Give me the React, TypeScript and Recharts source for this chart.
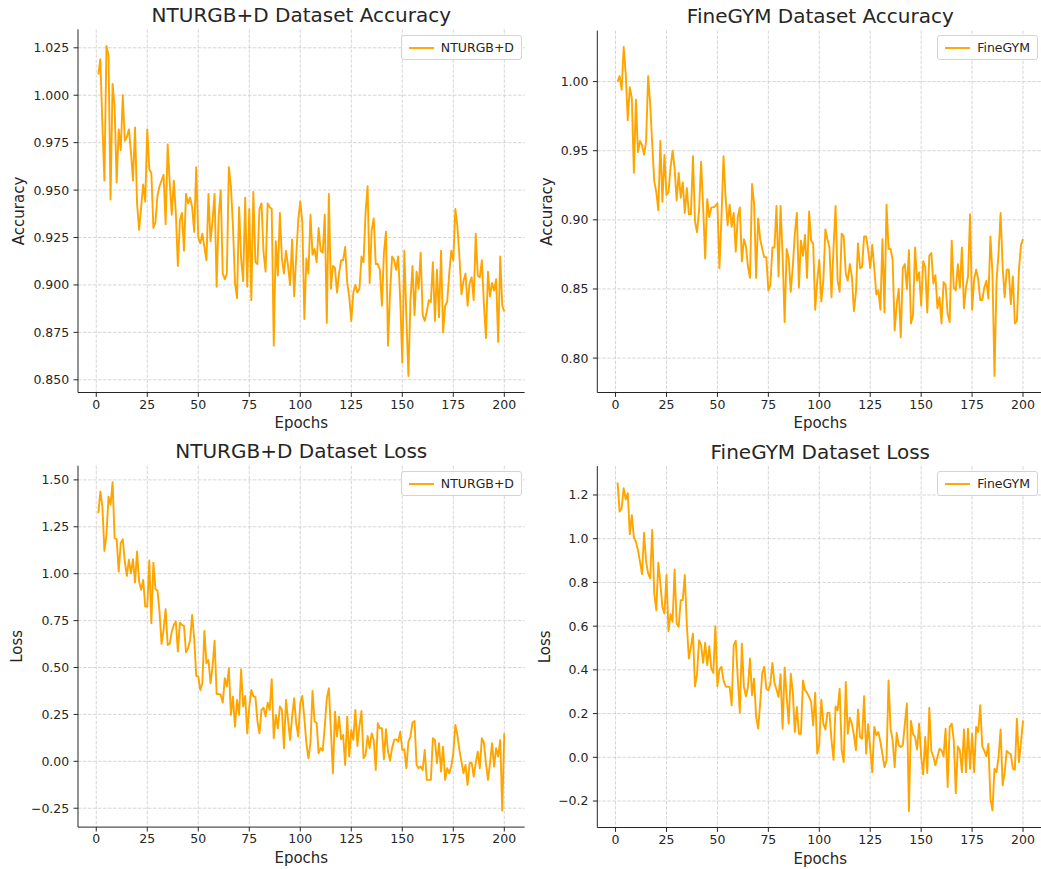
import { LineChart, Line, XAxis, YAxis, CartesianGrid } from "recharts";

const FONT = "'DejaVu Sans', sans-serif";
const ORANGE = "#FFA500";
const INK = "#262626";

const epochTicks = [0, 25, 50, 75, 100, 125, 150, 175, 200];
const ntuAccTicks = [0.85, 0.875, 0.9, 0.925, 0.95, 0.975, 1.0, 1.025];
const gymAccTicks = [0.8, 0.85, 0.9, 0.95, 1.0];
const ntuLossTicks = [-0.25, 0, 0.25, 0.5, 0.75, 1.0, 1.25, 1.5];
const gymLossTicks = [-0.2, 0, 0.2, 0.4, 0.6, 0.8, 1.0, 1.2];

// epochs 1..200
const ntuAcc = [
  1.011, 1.019, 0.985, 0.955, 1.026, 1.021, 0.945, 1.006, 0.994, 0.954,
  0.982, 0.971, 1.0, 0.976, 0.978, 0.982, 0.97, 0.955, 0.983, 0.943,
  0.929, 0.941, 0.953, 0.944, 0.982, 0.961, 0.959, 0.93, 0.933, 0.947,
  0.952, 0.955, 0.958, 0.932, 0.974, 0.954, 0.937, 0.955, 0.938, 0.91,
  0.934, 0.938, 0.918, 0.948, 0.943, 0.946, 0.941, 0.928, 0.962, 0.925,
  0.922, 0.927, 0.92, 0.913, 0.948, 0.923, 0.934, 0.948, 0.899, 0.936,
  0.95, 0.906, 0.903, 0.906, 0.962, 0.952, 0.931, 0.901, 0.893, 0.941,
  0.914, 0.902, 0.946, 0.899, 0.94, 0.892, 0.949, 0.912, 0.911, 0.94,
  0.943, 0.917, 0.907, 0.943, 0.941, 0.94, 0.868, 0.923, 0.905, 0.938,
  0.914, 0.906, 0.918, 0.91, 0.9, 0.924, 0.894, 0.915, 0.934, 0.944,
  0.933, 0.882, 0.914, 0.906, 0.937, 0.916, 0.919, 0.912, 0.93, 0.918,
  0.917, 0.937, 0.88, 0.948, 0.898, 0.91, 0.909, 0.896, 0.906, 0.913,
  0.913, 0.92, 0.901, 0.894, 0.881, 0.896, 0.9, 0.896, 0.898, 0.915,
  0.912, 0.938, 0.952, 0.901, 0.929, 0.935, 0.911, 0.911, 0.908, 0.889,
  0.917, 0.928, 0.868, 0.896, 0.915, 0.913, 0.908, 0.915, 0.892, 0.859,
  0.918, 0.883, 0.852, 0.892, 0.91, 0.884, 0.907, 0.898, 0.917, 0.884,
  0.881, 0.886, 0.892, 0.891, 0.912, 0.881, 0.908, 0.883, 0.918, 0.875,
  0.889, 0.891, 0.906, 0.918, 0.913, 0.94, 0.931, 0.915, 0.895, 0.902,
  0.906, 0.889, 0.901, 0.904, 0.892, 0.927, 0.905, 0.904, 0.913, 0.89,
  0.872, 0.907, 0.894, 0.901, 0.897, 0.903, 0.87, 0.915, 0.889, 0.886,
];

const gymAcc = [
  1.0, 1.004, 0.994, 1.025, 1.006, 0.972, 0.996, 0.988, 0.934, 0.987,
  0.949, 0.957, 0.954, 0.947, 0.957, 1.004, 0.984, 0.955, 0.928, 0.92,
  0.907, 0.957, 0.913, 0.947, 0.918, 0.92, 0.938, 0.95, 0.937, 0.914,
  0.934, 0.916, 0.927, 0.905, 0.923, 0.904, 0.904, 0.946, 0.899, 0.891,
  0.907, 0.942, 0.909, 0.872, 0.915, 0.902, 0.909, 0.909, 0.91, 0.912,
  0.865, 0.902, 0.946, 0.917, 0.896, 0.911, 0.895, 0.905, 0.877, 0.902,
  0.909, 0.87, 0.886, 0.881, 0.866, 0.858, 0.926, 0.912, 0.858, 0.901,
  0.886, 0.879, 0.873, 0.873, 0.849, 0.853, 0.88, 0.88, 0.91, 0.859,
  0.91, 0.874, 0.826, 0.879, 0.872, 0.848, 0.866, 0.89, 0.905, 0.851,
  0.885, 0.874, 0.889, 0.858, 0.906, 0.885, 0.883, 0.835, 0.856, 0.871,
  0.841, 0.856, 0.893, 0.886, 0.88, 0.844, 0.88, 0.91, 0.856, 0.848,
  0.89, 0.888, 0.861, 0.856, 0.868, 0.859, 0.834, 0.848, 0.883, 0.865,
  0.866, 0.888, 0.888, 0.878, 0.865, 0.882, 0.865, 0.846, 0.849, 0.835,
  0.886, 0.833, 0.911, 0.879, 0.879, 0.871, 0.82, 0.839, 0.85, 0.815,
  0.865, 0.868, 0.85, 0.878, 0.825, 0.831, 0.88, 0.856, 0.862, 0.838,
  0.87, 0.866, 0.833, 0.874, 0.876, 0.854, 0.86, 0.836, 0.844, 0.825,
  0.855, 0.853, 0.832, 0.826, 0.885, 0.851, 0.849, 0.868, 0.851, 0.88,
  0.836, 0.851, 0.859, 0.904, 0.835, 0.857, 0.864, 0.857, 0.842, 0.842,
  0.851, 0.856, 0.843, 0.888, 0.861, 0.787, 0.856, 0.876, 0.905, 0.866,
  0.844, 0.864, 0.864, 0.839, 0.859, 0.825, 0.827, 0.864, 0.882, 0.886,
];

const ntuLoss = [
  1.322, 1.438, 1.358, 1.121, 1.207, 1.411, 1.367, 1.488, 1.189, 1.184,
  1.011, 1.162, 1.184, 1.065, 0.988, 1.074, 1.002, 1.077, 0.953, 1.118,
  0.958, 0.914, 0.967, 0.825, 0.825, 1.07, 0.736, 1.059, 0.917, 0.91,
  0.798, 0.626, 0.7, 0.811, 0.62, 0.626, 0.691, 0.727, 0.745, 0.585,
  0.739, 0.727, 0.722, 0.581, 0.603, 0.647, 0.78, 0.656, 0.455, 0.452,
  0.38, 0.416, 0.695, 0.523, 0.54, 0.416, 0.505, 0.643, 0.359, 0.359,
  0.354, 0.313, 0.443, 0.398, 0.496, 0.247, 0.345, 0.185, 0.327, 0.247,
  0.491, 0.292, 0.348, 0.149, 0.292, 0.38, 0.345, 0.345, 0.212, 0.149,
  0.274, 0.286, 0.238, 0.313, 0.274, 0.437, 0.123, 0.247, 0.176, 0.292,
  0.274, 0.07, 0.327, 0.221, 0.114, 0.238, 0.336, 0.203, 0.132, 0.31,
  0.348, 0.229, 0.096, 0.016, 0.1, 0.375, 0.212, 0.206, 0.043, 0.07,
  0.057, 0.185, 0.336, 0.389, 0.167, -0.064, 0.265, 0.132, 0.238, 0.117,
  0.141, -0.019, 0.238, 0.025, 0.167, 0.114, 0.274, 0.082, 0.188, 0.269,
  0.016, 0.034, 0.135, 0.07, 0.149, 0.114, -0.046, 0.203, 0.176, 0.176,
  0.011, 0.171, 0.052, 0.004, 0.07, 0.114, 0.117, 0.105, 0.158, 0.061,
  0.064, -0.037, 0.105, 0.132, 0.206, 0.215, -0.019, -0.037, -0.028, -0.046,
  0.061, -0.099, -0.099, -0.099, 0.123, 0.114, -0.01, 0.096, -0.055, 0.078,
  -0.099, -0.037, -0.064, -0.028, 0.043, 0.194, 0.141, 0.061, -0.002, -0.064,
  -0.019, -0.126, -0.01, -0.007, -0.082, -0.01, 0.052, -0.037, 0.123, 0.1,
  -0.01, -0.099, -0.01, 0.096, -0.028, 0.07, 0.025, 0.114, -0.263, 0.149,
];

const gymLoss = [
  1.257, 1.124, 1.139, 1.231, 1.18, 1.208, 1.021, 1.108, 1.006, 0.986,
  0.948, 0.895, 0.838, 1.027, 0.895, 0.841, 0.818, 1.04, 0.75, 0.673,
  0.89, 0.795, 0.688, 0.658, 0.834, 0.577, 0.655, 0.62, 0.859, 0.612,
  0.597, 0.719, 0.719, 0.834, 0.604, 0.452, 0.505, 0.566, 0.325, 0.38,
  0.536, 0.513, 0.432, 0.524, 0.421, 0.508, 0.406, 0.386, 0.6, 0.325,
  0.401, 0.414, 0.352, 0.325, 0.322, 0.322, 0.238, 0.513, 0.533, 0.36,
  0.203, 0.52, 0.322, 0.279, 0.322, 0.452, 0.284, 0.36, 0.185, 0.131,
  0.246, 0.386, 0.414, 0.314, 0.307, 0.337, 0.432, 0.34, 0.31, 0.276,
  0.38, 0.131, 0.411, 0.276, 0.154, 0.383, 0.299, 0.116, 0.23, 0.108,
  0.108, 0.352, 0.307, 0.295, 0.276, 0.253, 0.146, 0.295, 0.017, 0.062,
  0.264, 0.154, 0.127, 0.203, 0.203, 0.078, -0.011, 0.233, 0.215, 0.314,
  0.032, -0.022, 0.345, 0.108, 0.181, 0.154, 0.101, 0.032, 0.218, 0.093,
  0.085, 0.279, 0.017, 0.151, 0.039, -0.068, 0.139, 0.101, 0.116, 0.07,
  0.014, -0.045, -0.014, 0.352, 0.131, 0.078, -0.045, 0.111, 0.055, 0.047,
  0.055, 0.154, 0.246, -0.246, 0.166, 0.108, 0.093, 0.035, 0.154, 0.003,
  -0.078, 0.093, -0.072, 0.227, 0.029, 0.003, -0.037, 0.003, 0.039, 0.032,
  0.005, 0.131, -0.136, 0.139, 0.154, 0.078, -0.164, 0.05, 0.032, -0.068,
  0.127, -0.068, 0.131, -0.052, 0.108, -0.068, 0.139, 0.116, 0.238, 0.05,
  0.029, 0.005, 0.062, -0.19, -0.243, -0.052, -0.068, 0.0, 0.127, -0.128,
  -0.068, 0.029, 0.02, 0.014, -0.052, -0.057, 0.177, -0.022, 0.07, 0.169,
];

const toRows = (values: number[]) => values.map((v, i) => ({ epoch: i + 1, value: v }));

// matplotlib-style 5% margins around the data
const padded = (lo: number, hi: number): [number, number] => {
  const m = (hi - lo) * 0.05;
  return [lo - m, hi + m];
};
const xDomain = padded(1, ntuAcc.length);

const fmt = (digits: number) => (v: number) =>
  (v < 0 ? "\u2212" : "") + Math.abs(v).toFixed(digits);

type PanelProps = {
  x: number; y: number; w: number; h: number;
  mt: number; mr: number; yw: number;
  title: string; yLabel: string; yLabelOffset: number; xLabelOffset: number;
  name: string; values: number[]; yTicks: number[]; digits: number;
  legendTop: number; legendRight: number;
};

function LegendBox({ name, top, right }: { name: string; top: number; right: number }) {
  return (
    <div
      style={{
        position: "absolute", top, right, zIndex: 2,
        display: "flex", alignItems: "center", background: "rgba(255,255,255,0.85)",
        border: "1px solid #d4d4d4", borderRadius: 3, padding: "4px 7px",
        fontFamily: FONT, fontSize: 12.5, lineHeight: "15px", color: INK, whiteSpace: "nowrap",
      }}
    >
      <svg width={25} height={10} style={{ marginRight: 7 }}>
        <line x1={0} y1={5} x2={25} y2={5} stroke={ORANGE} strokeWidth={1.9} />
      </svg>
      <span>{name}</span>
    </div>
  );
}

function Panel(p: PanelProps) {
  const yDomain = padded(Math.min(...p.values), Math.max(...p.values));
  const text = { fontSize: 12.5, fill: INK, fontFamily: FONT };
  return (
    <div style={{ position: "absolute", left: p.x, top: p.y, width: p.w, height: p.h }}>
      <div
        style={{
          position: "absolute", left: p.yw, width: p.w - p.yw - p.mr, top: p.mt - 7.5 - 16.9,
          textAlign: "center", fontSize: 20, lineHeight: "20px", color: INK, fontFamily: FONT, whiteSpace: "nowrap",
        }}
      >
        {p.title}
      </div>
      <LineChart width={p.w} height={p.h} data={toRows(p.values)} margin={{ top: p.mt, right: p.mr, left: 0, bottom: 0 }}>
        <CartesianGrid stroke="#cccccc" strokeDasharray="3.5 1.5" strokeWidth={0.8} syncWithTicks />
        <XAxis
          type="number" dataKey="epoch" domain={xDomain} ticks={epochTicks} allowDataOverflow interval={0}
          height={40} tickSize={4.4} tickMargin={3} stroke={INK} tick={text}
          label={{ value: "Epochs", position: "insideBottom", offset: p.xLabelOffset, style: { fontSize: 15, fill: INK, fontFamily: FONT } }}
        />
        <YAxis
          type="number" domain={yDomain} ticks={p.yTicks} allowDataOverflow interval={0}
          width={p.yw} tickSize={4.4} tickMargin={4.4} stroke={INK} tick={text} tickFormatter={fmt(p.digits)}
          label={{ value: p.yLabel, angle: -90, position: "insideLeft", offset: p.yLabelOffset, style: { fontSize: 15, fill: INK, fontFamily: FONT, textAnchor: "middle" } }}
        />
        <Line
          type="linear" dataKey="value" name={p.name} stroke={ORANGE} strokeWidth={1.9}
          strokeLinejoin="round" dot={false} isAnimationActive={false}
        />
      </LineChart>
      <LegendBox name={p.name} top={p.legendTop} right={p.legendRight} />
    </div>
  );
}

export default function App() {
  return (
    <div style={{ position: "absolute", left: 0, top: 0, width: 1041, height: 869, overflow: "hidden", background: "#fff" }}>
      <Panel
        x={0} y={0} w={530} h={432.5} mt={29.4} mr={5.4} yw={78}
        title="NTURGB+D Dataset Accuracy" yLabel="Accuracy" yLabelOffset={19} xLabelOffset={4.5}
        name="NTURGB+D" values={ntuAcc} yTicks={ntuAccTicks} digits={3} legendTop={35} legendRight={8}
      />
      <Panel
        x={530} y={0} w={520} h={432.5} mt={30.6} mr={6.7} yw={67.3}
        title="FineGYM Dataset Accuracy" yLabel="Accuracy" yLabelOffset={17} xLabelOffset={4.5}
        name="FineGYM" values={gymAcc} yTicks={gymAccTicks} digits={2} legendTop={35} legendRight={12}
      />
      <Panel
        x={0} y={440} w={530} h={427.1} mt={25.7} mr={5.4} yw={78}
        title="NTURGB+D Dataset Loss" yLabel="Loss" yLabelOffset={17} xLabelOffset={4}
        name="NTURGB+D" values={ntuLoss} yTicks={ntuLossTicks} digits={2} legendTop={31} legendRight={8}
      />
      <Panel
        x={530} y={440} w={520} h={427.5} mt={26.1} mr={6.7} yw={67.3}
        title="FineGYM Dataset Loss" yLabel="Loss" yLabelOffset={15} xLabelOffset={4}
        name="FineGYM" values={gymLoss} yTicks={gymLossTicks} digits={1} legendTop={31} legendRight={12}
      />
    </div>
  );
}
